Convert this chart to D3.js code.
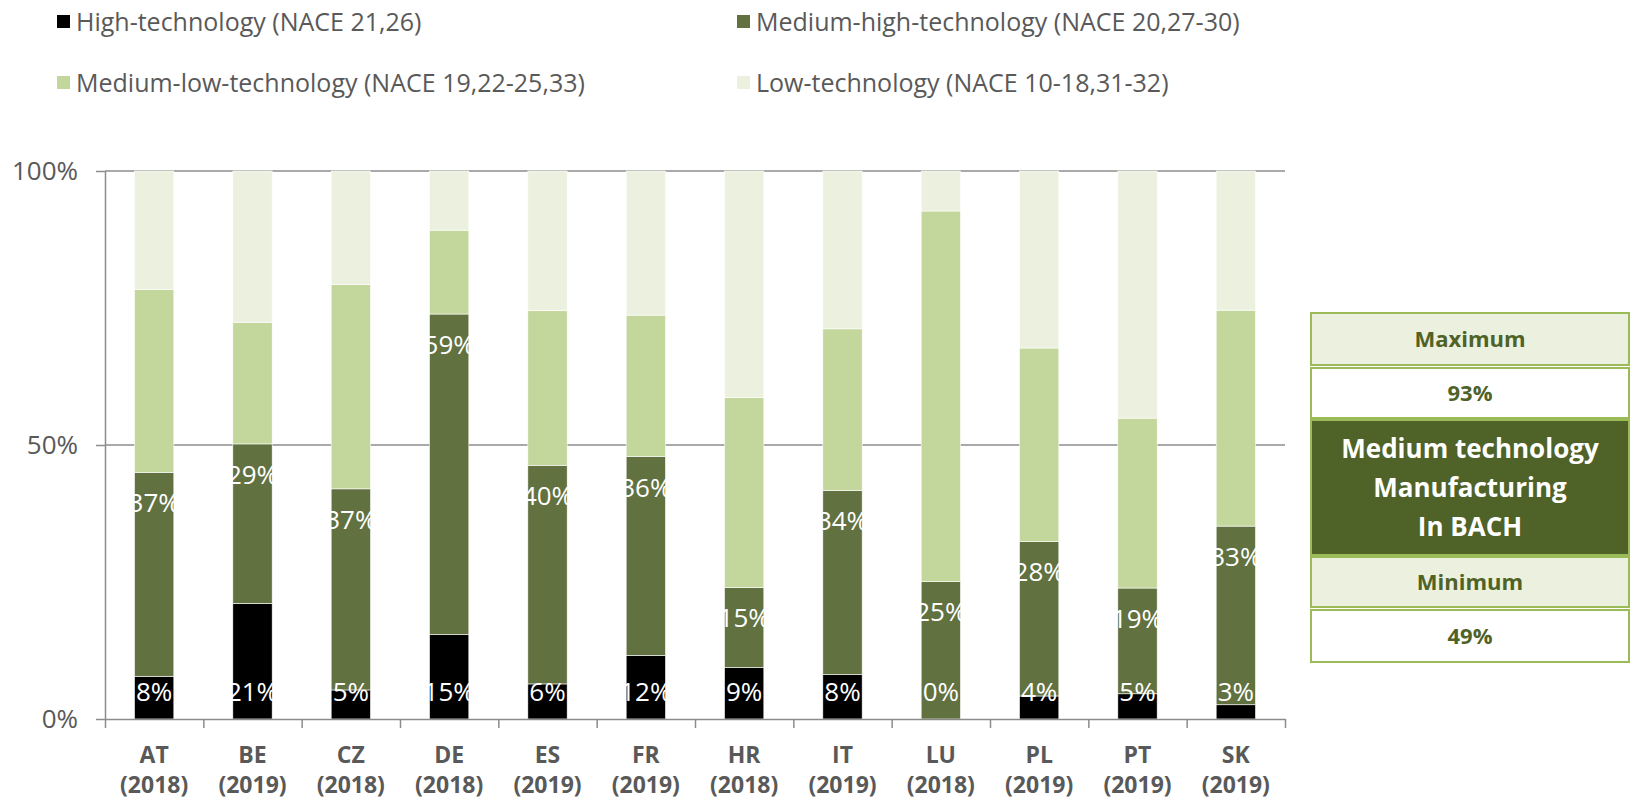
<!DOCTYPE html>
<html>
<head>
<meta charset="utf-8">
<script src="https://cdn.jsdelivr.net/npm/d3@7"></script>
<style>
  body { margin: 0; background: #fff; }
  text { font-family: "Open Sans", sans-serif; }
</style>
</head>
<body>
<div id="chart"></div>
<script>
// country + reference year
var countries = ["AT", "BE", "CZ", "DE", "ES", "FR", "HR", "IT", "LU", "PL", "PT", "SK"];
var years = ["2018", "2019", "2018", "2018", "2019", "2019", "2018", "2019", "2018", "2019", "2019", "2019"];

// shares of manufacturing by technology level
var highTech    = [0.078, 0.211, 0.053, 0.154, 0.064, 0.116, 0.094, 0.081, 0.000, 0.042, 0.046, 0.026];
var medHighTech = [0.372, 0.291, 0.367, 0.585, 0.399, 0.363, 0.146, 0.336, 0.251, 0.282, 0.193, 0.326];
var medLowTech  = [0.334, 0.222, 0.373, 0.153, 0.282, 0.258, 0.347, 0.295, 0.676, 0.353, 0.310, 0.394];
var lowTech     = [0.216, 0.276, 0.207, 0.108, 0.255, 0.263, 0.413, 0.288, 0.073, 0.323, 0.451, 0.254];

var seriesNames = ["High-technology (NACE 21,26)", "Medium-high-technology (NACE 20,27-30)",
                   "Medium-low-technology (NACE 19,22-25,33)", "Low-technology (NACE 10-18,31-32)"];
var seriesKeys = ["high", "medHigh", "medLow", "low"];
var colors = ["#000000", "#617140", "#c3d69b", "#ebf1de"];
var yTicks = [0, 0.5, 1];

function drawChart() {
    var W = 1635, H = 801;
    var pLeft = 105, pRight = 1285, pTop = 171, pBottom = 719;
    var grey = "#595959";

    var svg = d3.select("#chart").append("svg")
        .attr("width", W)
        .attr("height", H);

    var table = countries.map(function (c, i) {
        return { country: c, year: years[i], high: highTech[i], medHigh: medHighTech[i], medLow: medLowTech[i], low: lowTech[i] };
    });

    var stacked = d3.stack().keys(seriesKeys)(table);

    var xScale = d3.scaleBand()
        .domain(countries)
        .range([pLeft, pRight])
        .paddingInner(0.6)
        .paddingOuter(0.3);

    var yScale = d3.scaleLinear()
        .domain([0, 1])
        .range([pBottom, pTop]);

    // gridlines
    svg.append("g").selectAll("line")
        .data(yTicks.filter(function (d) { return d > 0; }))
        .enter()
        .append("line")
        .attr("x1", pLeft)
        .attr("x2", pRight)
        .attr("y1", function (d) { return yScale(d); })
        .attr("y2", function (d) { return yScale(d); })
        .attr("stroke", "#8c8c8c")
        .attr("stroke-width", 1.5);

    // bars
    var groups = svg.append("g").selectAll("g")
        .data(stacked)
        .enter()
        .append("g")
        .attr("fill", function (d, i) { return colors[i]; });

    groups.selectAll("rect")
        .data(function (d) { return d; })
        .enter()
        .append("rect")
        .attr("x", function (d) { return xScale(d.data.country); })
        .attr("y", function (d) { return yScale(d[1]); })
        .attr("width", xScale.bandwidth())
        .attr("height", function (d) { return yScale(d[0]) - yScale(d[1]); })
        .attr("stroke", "#ffffff")
        .attr("stroke-width", 0.6);

    // Y axis
    var yAxis = d3.axisLeft(yScale)
        .tickValues(yTicks)
        .tickFormat(d3.format(".0%"))
        .tickSize(9)
        .tickSizeOuter(0)
        .tickPadding(18);

    var gy = svg.append("g")
        .attr("transform", "translate(" + pLeft + ",0)")
        .call(yAxis);
    gy.selectAll("path, line").attr("stroke", "#8c8c8c").attr("stroke-width", 1.5);
    gy.selectAll("text").attr("fill", grey).attr("font-size", "26px")
        .style("font-family", "'Open Sans', sans-serif");

    // X axis: ticks on the category boundaries
    var xEdges = d3.scaleLinear().domain([0, countries.length]).range([pLeft, pRight]);
    var xAxis = d3.axisBottom(xEdges)
        .tickValues(d3.range(countries.length + 1))
        .tickFormat("")
        .tickSize(9)
        .tickSizeOuter(0);

    var gx = svg.append("g")
        .attr("transform", "translate(0," + pBottom + ")")
        .call(xAxis);
    gx.selectAll("path, line").attr("stroke", "#8c8c8c").attr("stroke-width", 1.5);

    // category labels
    var catLabels = svg.append("g").selectAll("text")
        .data(table)
        .enter()
        .append("text")
        .attr("text-anchor", "middle")
        .attr("font-size", "23px")
        .attr("font-weight", "bold")
        .attr("fill", grey);
    catLabels.append("tspan")
        .attr("x", function (d) { return xScale(d.country) + xScale.bandwidth() / 2; })
        .attr("y", 763)
        .text(function (d) { return d.country; });
    catLabels.append("tspan")
        .attr("x", function (d) { return xScale(d.country) + xScale.bandwidth() / 2; })
        .attr("y", 793)
        .text(function (d) { return "(" + d.year + ")"; });

    // data labels (high and medium-high only)
    var pct = d3.format(".0%");
    svg.append("g").selectAll("text")
        .data(stacked[0])
        .enter()
        .append("text")
        .text(function (d) { return pct(d.data.high); })
        .attr("text-anchor", "middle")
        .attr("x", function (d) { return xScale(d.data.country) + xScale.bandwidth() / 2; })
        .attr("y", 701)
        .attr("font-size", "26px")
        .attr("fill", "white");

    svg.append("g").selectAll("text")
        .data(stacked[1])
        .enter()
        .append("text")
        .text(function (d) { return pct(d.data.medHigh); })
        .attr("text-anchor", "middle")
        .attr("x", function (d) { return xScale(d.data.country) + xScale.bandwidth() / 2; })
        .attr("y", function (d) { return yScale(d[1]) + 40; })
        .attr("font-size", "26px")
        .attr("fill", "white");

    // legend
    var legend = svg.append("g").selectAll("g")
        .data(seriesNames)
        .enter()
        .append("g")
        .attr("transform", function (d, i) {
            return "translate(" + (i % 2 === 0 ? 57 : 737) + "," + (i < 2 ? 22 : 83) + ")";
        });
    legend.append("rect")
        .attr("x", 0)
        .attr("y", -7)
        .attr("width", 13)
        .attr("height", 13)
        .attr("fill", function (d, i) { return colors[i]; });
    legend.append("text")
        .text(function (d) { return d; })
        .attr("x", 19)
        .attr("y", 9)
        .attr("font-size", "25px")
        .attr("fill", grey);

    // side box: min / max of medium technology (medium-high + medium-low)
    var medium = table.map(function (d) { return d.medHigh + d.medLow; });
    var boxRows = [
        { lines: ["Maximum"], y: 313, h: 52, fill: "#ebf1de", color: "#4f6228", size: 22 },
        { lines: [pct(d3.max(medium))], y: 368, h: 50, fill: "#ffffff", color: "#4f6228", size: 22 },
        { lines: ["Medium technology", "Manufacturing", "In BACH"], y: 420, h: 135, fill: "#4f6228", color: "#ffffff", size: 26 },
        { lines: ["Minimum"], y: 557, h: 50, fill: "#ebf1de", color: "#4f6228", size: 22 },
        { lines: [pct(d3.min(medium))], y: 610, h: 52, fill: "#ffffff", color: "#4f6228", size: 22 }
    ];
    var bx = 1311, bw = 318;
    var box = svg.append("g").selectAll("g")
        .data(boxRows)
        .enter()
        .append("g");
    box.append("rect")
        .attr("x", bx)
        .attr("y", function (d) { return d.y; })
        .attr("width", bw)
        .attr("height", function (d) { return d.h; })
        .attr("fill", function (d) { return d.fill; })
        .attr("stroke", "#9bbb59")
        .attr("stroke-width", 2);
    box.each(function (d) {
        var g = d3.select(this);
        var lh = 39;
        var y0 = d.y + d.h / 2 - (d.lines.length - 1) * lh / 2 + d.size * 0.36;
        d.lines.forEach(function (t, j) {
            g.append("text")
                .text(t)
                .attr("x", bx + bw / 2)
                .attr("y", y0 + j * lh)
                .attr("text-anchor", "middle")
                .attr("font-weight", "bold")
                .attr("font-size", d.size + "px")
                .attr("fill", d.color);
        });
    });
}

drawChart();
</script>
</body>
</html>
